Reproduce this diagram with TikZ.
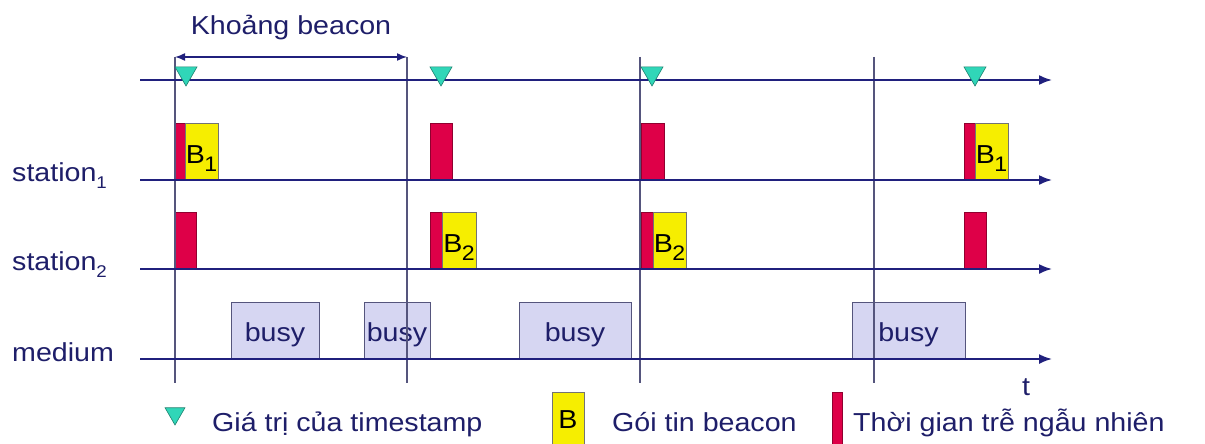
\documentclass[tikz,border=0pt]{standalone}
\usepackage{fontspec}
\setmainfont{Liberation Sans}[FakeStretch=1.1]
\usepackage{tikz}
\usetikzlibrary{positioning,arrows.meta,shapes.geometric}

\definecolor{navy}{RGB}{32,32,125}
\definecolor{gridnavy}{RGB}{85,85,125}
\definecolor{textnavy}{RGB}{30,30,105}
\definecolor{delayred}{RGB}{222,0,72}
\definecolor{beaconyellow}{RGB}{246,238,0}
\definecolor{busyblue}{RGB}{214,214,242}
\definecolor{stampcyan}{RGB}{48,214,184}

% lowered small index, as in station_1
\newcommand{\lowsub}[1]{\raisebox{-0.3em}{\fontsize{17}{17}\selectfont #1}}
% larger index inside the beacon frames
\newcommand{\framesub}[1]{\kern-0.5pt\raisebox{-8pt}{\fontsize{21}{21}\selectfont #1}}

\begin{document}
\begin{tikzpicture}[
    x=1pt, y=-1pt,
    font=\fontsize{26}{30}\selectfont,
    axis/.style={draw=navy, line width=1.8pt, -{Latex[length=13pt,width=10pt]}},
    tickline/.style={draw=gridnavy, line width=1.3pt},
    dim/.style={draw=navy, line width=1.5pt, {Latex[length=10pt,width=8pt]}-{Latex[length=10pt,width=8pt]}},
    slot/.style={rectangle, inner sep=0pt, outer sep=0pt, anchor=south west, minimum height=57pt},
    delay/.style={slot, draw=delayred!65!black, fill=delayred, line width=0.8pt},
    beacon/.style={slot, draw=black!55, fill=beaconyellow, line width=0.8pt, text=black, text height=24pt, text depth=0pt},
    busy/.style={slot, draw=gridnavy, fill=busyblue, line width=1pt, text=textnavy, text height=21pt, text depth=0pt},
    stamp/.style={regular polygon, regular polygon sides=3, shape border rotate=180, minimum size=25.4pt,
                  inner sep=0pt, fill=stampcyan, draw=stampcyan!60!black, line width=0.6pt},
    rowlabel/.style={anchor=base west, inner sep=0pt, text=textnavy},
    legtext/.style={anchor=base west, inner sep=0pt, text=textnavy}
]
\useasboundingbox (0,0) rectangle (1205,444);

% time axes
\coordinate (ts-l)  at (140,80);   \coordinate (ts-r)  at (1052,80);
\coordinate (st1-l) at (140,180);  \coordinate (st1-r) at (1052,180);
\coordinate (st2-l) at (140,269);  \coordinate (st2-r) at (1052,269);
\coordinate (med-l) at (140,359);  \coordinate (med-r) at (1052,359);

% beacon interval boundaries
\coordinate (v1t) at (175,57);  \coordinate (v1b) at (175,383);
\coordinate (v2t) at (407,57);  \coordinate (v2b) at (407,383);
\coordinate (v3t) at (640,57);  \coordinate (v3b) at (640,383);
\coordinate (v4t) at (874,57);  \coordinate (v4b) at (874,383);

% medium
\node (busy1) [busy, minimum width=88pt]  at (231,359) {busy};
\node (busy2) [busy, minimum width=66pt]  at (364,359) {busy};
\node (busy3) [busy, minimum width=112pt] at (519,359) {busy};
\node (busy4) [busy, minimum width=113pt] at (852,359) {busy};

% station 1
\node (d11) [delay, minimum width=10pt]  at (175,180) {};
\node (b11) [beacon, minimum width=33pt] at (185,180) {B\framesub{1}};
\node (d12) [delay, minimum width=22pt]  at (430,180) {};
\node (d13) [delay, minimum width=23pt]  at (641,180) {};
\node (d14) [delay, minimum width=11pt]  at (964,180) {};
\node (b14) [beacon, minimum width=33pt] at (975,180) {B\framesub{1}};

% station 2
\node (d21) [delay, minimum width=21pt]  at (175,269) {};
\node (d22) [delay, minimum width=12pt]  at (430,269) {};
\node (b22) [beacon, minimum width=34pt] at (442,269) {B\framesub{2}};
\node (d23) [delay, minimum width=12pt]  at (641,269) {};
\node (b23) [beacon, minimum width=33pt] at (653,269) {B\framesub{2}};
\node (d24) [delay, minimum width=22pt]  at (964,269) {};

\draw [tickline] (v1t) -- (v1b);
\draw [tickline] (v2t) -- (v2b);
\draw [tickline] (v3t) -- (v3b);
\draw [tickline] (v4t) -- (v4b);

\draw [axis] (ts-l)  -- (ts-r);
\draw [axis] (st1-l) -- (st1-r);
\draw [axis] (st2-l) -- (st2-r);
\draw [axis] (med-l) -- (med-r);

\draw [dim] (v1t) -- node[above=16.5pt, inner sep=0pt, text=textnavy] (interval) {Khoảng beacon} (v2t);

% timestamps
\node (ts1) [stamp] at (186,73.3) {};
\node (ts2) [stamp] at (441,73.3) {};
\node (ts3) [stamp] at (652,73.3) {};
\node (ts4) [stamp] at (975,73.3) {};

\node (lab1) [rowlabel] at (12,181) {station\lowsub{1}};
\node (lab2) [rowlabel] at (12,270) {station\lowsub{2}};
\node (lab3) [rowlabel] at (12,361) {medium};
\node (tlab) [anchor=base, inner sep=0pt, text=textnavy] at (1026,395) {t};

% legend
\node (lg-stamp)  [stamp, minimum size=23pt] at (175,413.5) {};
\node (lg-stampt) [legtext] at (212,431) {Giá trị của timestamp};
\node (lg-beacon) [slot, draw=black!55, fill=beaconyellow, line width=0.8pt, minimum width=32pt, minimum height=52pt,
                   anchor=north west] at (552,392) {};
\node (lg-B)      [anchor=base, inner sep=0pt, text=black] at (568,428) {B};
\node (lg-beacont)[legtext] at (612,431) {Gói tin beacon};
\node (lg-delay)  [delay, minimum width=10pt, minimum height=52pt, anchor=north west] at (832,392) {};
\node (lg-delayt) [legtext] at (853,431) {Thời gian trễ ngẫu nhiên};

\end{tikzpicture}
\end{document}
